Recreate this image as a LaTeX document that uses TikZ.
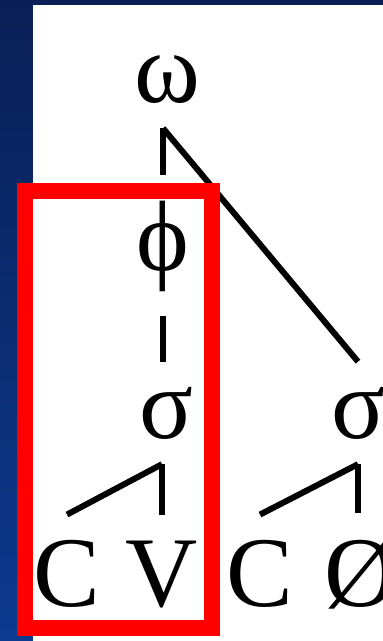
\documentclass[tikz,border=0pt]{standalone}
\usepackage{fontspec}
\newfontfamily\treefont{Liberation Serif}
\usepackage{tikz}
\usetikzlibrary{positioning,calc}
\definecolor{SlideTop}{HTML}{0A1F55}
\definecolor{SlideBottom}{HTML}{0B3A8F}
\definecolor{BoxRed}{HTML}{FF0000}

\begin{document}
\begin{tikzpicture}[x=1pt,y=-1pt,
    seg/.style={font=\treefont\fontsize{100}{100}\selectfont,anchor=base,inner xsep=0pt,inner ysep=25pt},
    branch/.style={line width=6pt}]
  \useasboundingbox (0,0) rectangle (383,641);
  \clip (0,0) rectangle (383,641);
  \shade[top color=SlideTop,bottom color=SlideBottom] (0,0) rectangle (383,641);
  \fill[white] (33,5) rectangle (390,650);
  % prosodic tree
  \node[seg] (omega) at (167,102) {ω};
  \node[seg] (phi) at (163,270) {ϕ};
  \node[seg] (sigmaA) at (166,438) {σ};
  \node[seg] (sigmaB) at (358,438) {σ};
  \node[seg] (consA) at (67,606) {C};
  \node[seg] (vowel) at (162,606) {V};
  \node[seg] (consB) at (260,606) {C};
  \node[seg] (empty) at (361,606) {Ø};
  \draw[branch] (phi.north |- omega.south) -- (phi.north);
  \draw[branch] (phi.north |- omega.south) -- (sigmaB.north);
  \draw[branch] (phi.south) -- (phi.south |- sigmaA.north);
  \draw[branch] (vowel.north |- sigmaA.south) -- (vowel.north);
  \draw[branch] (vowel.north |- sigmaA.south) -- (consA.north);
  \draw[branch] (sigmaB.south) -- (sigmaB.south |- empty.north);
  \draw[branch] (sigmaB.south) -- (consB.north);
  % highlighted foot
  \draw[BoxRed,line width=16pt] (25,191) rectangle (212,628);
\end{tikzpicture}
\end{document}
